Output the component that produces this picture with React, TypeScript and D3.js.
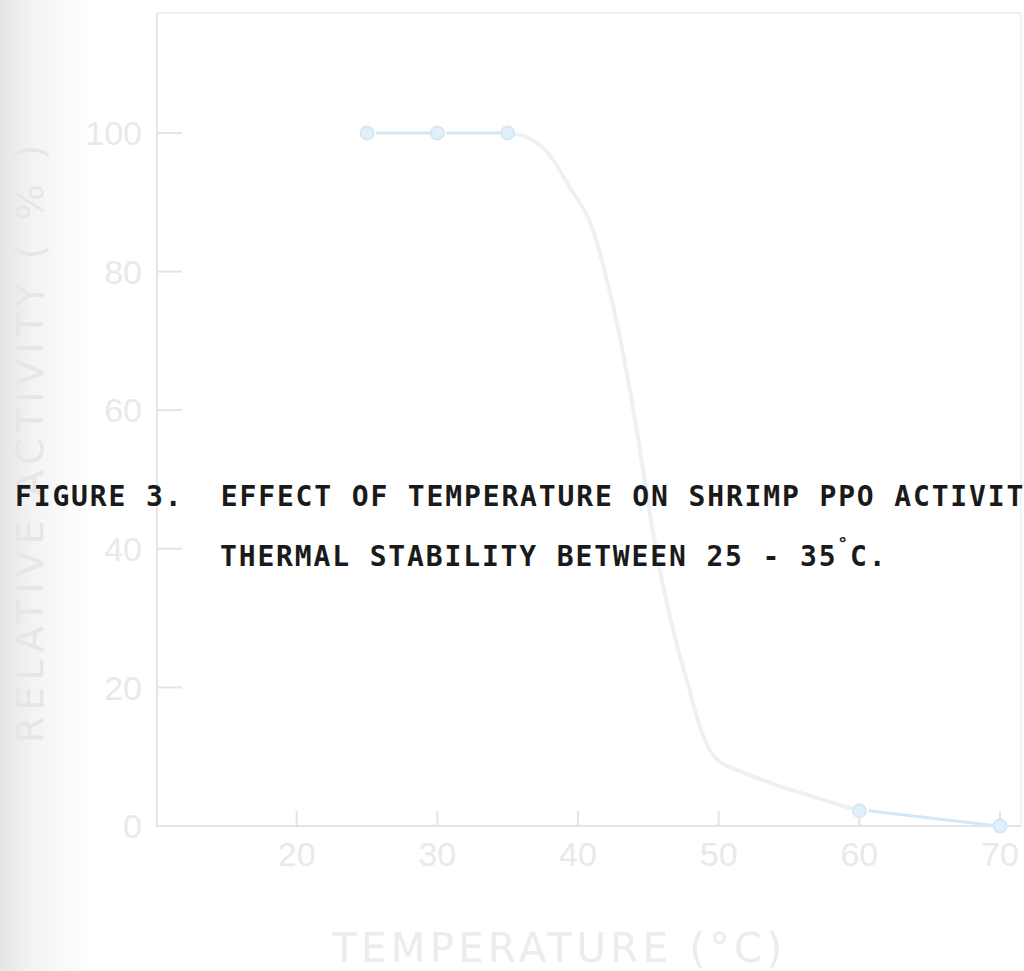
import React, { useEffect, useRef } from 'react';
import * as d3 from 'd3';

// measured points (temperature in C, relative activity in %)
const tempC = [25, 30, 35, 60, 70];
const activity = [100, 100, 100, 2.2, 0];

// hand drawn fitted curve
const curveT = [35, 36.2, 37.7, 39.4, 40.8, 42.4, 43.6, 44.6, 45.8, 47.6, 49.7, 51.9, 54.3, 60];
const curveV = [100, 99.5, 97.5, 92.2, 87.4, 75.9, 63.9, 51.8, 37.1, 22, 10, 7.6, 5.8, 2.2];

const xTicks = [20, 30, 40, 50, 60, 70];
const yTicks = [0, 20, 40, 60, 80, 100];

const captionLine1 = 'FIGURE 3.  EFFECT OF TEMPERATURE ON SHRIMP PPO ACTIVITY';
const captionLine2 = 'THERMAL STABILITY BETWEEN 25 - 35';

const App = () => {
  const ref = useRef<SVGSVGElement | null>(null);

  useEffect(() => {
    const W = 1024;
    const H = 971;
    const svg = d3.select(ref.current);
    svg.selectAll('*').remove();

    const x = d3.scaleLinear().domain([10, 70]).range([156, 1000]);
    const y = d3.scaleLinear().domain([0, 100]).range([826, 133]);

    const axisCol = '#e4e4e4';
    const labelCol = '#e9e9e9';
    const blue = '#d3e8f7';

    // scan shadow on the left edge
    const defs = svg.append('defs');
    const grad = defs.append('linearGradient').attr('id', 'shade').attr('x1', 0).attr('x2', 1);
    grad.append('stop').attr('offset', 0).attr('stop-color', '#e4e4e4');
    grad.append('stop').attr('offset', 0.35).attr('stop-color', '#f3f3f3');
    grad.append('stop').attr('offset', 1).attr('stop-color', '#ffffff');
    svg.append('rect').attr('width', W).attr('height', H).attr('fill', '#fff');
    svg.append('rect').attr('width', 90).attr('height', H).attr('fill', 'url(#shade)');

    const xEnd = x(71.5);
    const yTop = y(117.3);

    // frame
    svg.append('line')
      .attr('x1', x(10) + 1).attr('x2', xEnd).attr('y1', yTop).attr('y2', yTop)
      .attr('stroke', '#efefef').attr('stroke-width', 2);
    svg.append('line')
      .attr('x1', xEnd).attr('x2', xEnd).attr('y1', yTop).attr('y2', y(0))
      .attr('stroke', '#f2f2f2').attr('stroke-width', 2);

    // y axis
    svg.append('line')
      .attr('x1', x(10) + 1).attr('x2', x(10) + 1).attr('y1', yTop).attr('y2', y(0))
      .attr('stroke', axisCol).attr('stroke-width', 2);
    const gy = svg.append('g');
    gy.selectAll('line').data(yTicks).enter().append('line')
      .attr('x1', x(10) + 1).attr('x2', x(10) + 26)
      .attr('y1', d => y(d)).attr('y2', d => y(d))
      .attr('stroke', axisCol).attr('stroke-width', 2);
    gy.selectAll('text').data(yTicks).enter().append('text')
      .attr('x', 142).attr('y', d => y(d))
      .attr('dy', '0.36em')
      .attr('text-anchor', 'end')
      .attr('font-family', 'Liberation Sans, sans-serif')
      .attr('font-size', 34)
      .attr('fill', labelCol)
      .text(d => d);

    // x axis
    svg.append('line')
      .attr('x1', x(10)).attr('x2', xEnd).attr('y1', y(0)).attr('y2', y(0))
      .attr('stroke', axisCol).attr('stroke-width', 2);
    const gx = svg.append('g');
    gx.selectAll('line').data(xTicks).enter().append('line')
      .attr('x1', d => x(d)).attr('x2', d => x(d))
      .attr('y1', y(0)).attr('y2', y(0) - 15)
      .attr('stroke', axisCol).attr('stroke-width', 2);
    gx.selectAll('text').data(xTicks).enter().append('text')
      .attr('x', d => x(d)).attr('y', 866)
      .attr('text-anchor', 'middle')
      .attr('font-family', 'Liberation Sans, sans-serif')
      .attr('font-size', 34)
      .attr('fill', labelCol)
      .text(d => d);

    // axis titles
    svg.append('text')
      .attr('transform', 'translate(43,444) rotate(-90)')
      .attr('text-anchor', 'middle')
      .attr('font-family', 'DejaVu Sans, sans-serif')
      .attr('font-size', 38)
      .attr('fill', '#e6e6e6')
      .attr('textLength', 598)
      .attr('lengthAdjust', 'spacing')
      .text('RELATIVE ACTIVITY ( % )');
    svg.append('text')
      .attr('x', 557).attr('y', 962)
      .attr('text-anchor', 'middle')
      .attr('font-family', 'DejaVu Sans, sans-serif')
      .attr('font-size', 40)
      .attr('fill', '#ececec')
      .attr('textLength', 450)
      .attr('lengthAdjust', 'spacing')
      .text('TEMPERATURE (°C)');

    // fitted curve
    const curve = curveT.map((t, i) => [t, curveV[i]] as [number, number]);
    svg.append('path')
      .attr('d', d3.line<[number, number]>()
        .x(d => x(d[0])).y(d => y(d[1]))
        .curve(d3.curveCatmullRom.alpha(0.5))(curve))
      .attr('fill', 'none')
      .attr('stroke', '#eef1f4')
      .attr('stroke-width', 4);

    // connecting segments and markers
    const pts = tempC.map((t, i) => [t, activity[i]] as [number, number]);
    const seg = svg.append('g');
    [[0, 1], [1, 2], [3, 4]].forEach(([a, b]) => {
      seg.append('line')
        .attr('x1', x(pts[a][0]) + 9).attr('y1', y(pts[a][1]))
        .attr('x2', x(pts[b][0]) - 2).attr('y2', y(pts[b][1]))
        .attr('stroke', blue).attr('stroke-width', 3);
    });
    svg.append('g').selectAll('circle').data(pts).enter().append('circle')
      .attr('cx', d => x(d[0])).attr('cy', d => y(d[1]))
      .attr('r', 6.5)
      .attr('fill', '#e2f0fa')
      .attr('stroke', blue)
      .attr('stroke-width', 2);

    // caption
    const cap = svg.append('g')
      .attr('font-family', 'DejaVu Sans Mono, monospace')
      .attr('font-weight', 'bold')
      .attr('font-size', 28)
      .attr('letter-spacing', 1.85)
      .attr('fill', '#1a1a1a');
    cap.append('text').attr('x', 15).attr('y', 506)
      .attr('xml:space', 'preserve')
      .style('white-space', 'pre')
      .text(captionLine1);
    const l2 = cap.append('text').attr('x', 220).attr('y', 566);
    l2.append('tspan').text(captionLine2);
    l2.append('tspan').attr('dy', -16).attr('font-size', 18).text('°');
    l2.append('tspan').attr('dy', 16).text('C.');
  }, []);

  return (
    <svg
      ref={ref}
      width={1024}
      height={971}
      style={{ position: 'absolute', left: 0, top: 0, display: 'block' }}
    />
  );
};

export default App;
